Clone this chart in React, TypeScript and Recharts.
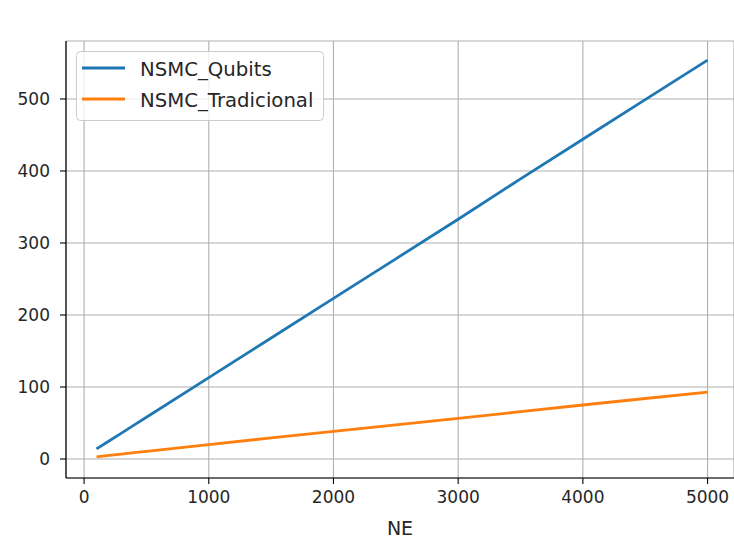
import React from "react";
import { LineChart, Line, XAxis, YAxis, CartesianGrid } from "recharts";

// Number of elements (NE) on the x axis
const ne = [100, 200, 300, 400, 500, 1000, 1500, 2000, 2500, 3000, 3500, 4000, 4500, 5000];
// Series values
const nsmcQubits = [14, 25, 36, 47, 58, 113, 168, 223, 278, 333, 389, 444, 499, 554];
const nsmcTradicional = [3, 4.9, 6.8, 8.7, 10.6, 20, 29.3, 38.5, 47.5, 56.5, 65.7, 75, 84, 93];
// Tick labels
const xTicks = [0, 1000, 2000, 3000, 4000, 5000];
const yTicks = [0, 100, 200, 300, 400, 500];

const seriesNames = ["NSMC_Qubits", "NSMC_Tradicional"];
const colors = ["#1f77b4", "#ff7f0e"];

const data = ne.map((x, i) => ({
  ne: x,
  qubits: nsmcQubits[i],
  tradicional: nsmcTradicional[i],
}));

const FONT = "'DejaVu Sans', sans-serif";
const TEXT = "#262626";
const W = 734;
const H = 541;

function ChartLegend() {
  return (
    <g>
      <rect x={76.5} y={51.5} width={247} height={69} rx={4} ry={4}
        fill="rgba(255,255,255,0.8)" stroke="#cccccc" strokeWidth={1} />
      {seriesNames.map((name, i) => (
        <g key={name}>
          <line x1={82} x2={125} y1={68 + i * 31} y2={68 + i * 31}
            stroke={colors[i]} strokeWidth={2.8} />
          <text x={140} y={69 + i * 31} dy="0.36em" fontFamily={FONT}
            fontSize={19.7} fill={TEXT}>{name}</text>
        </g>
      ))}
    </g>
  );
}

export default function App() {
  return (
    <div style={{ position: "absolute", left: 0, top: 0, width: W, height: H, background: "#fff" }}>
      <LineChart width={W} height={H} data={data}
        margin={{ top: 41, right: 0, bottom: 0, left: 0 }}>
        <CartesianGrid stroke="#b0b0b0" strokeWidth={1.1} />
        <XAxis dataKey="ne" type="number" domain={[-145, 5212]} ticks={xTicks}
          allowDataOverflow height={63} tickSize={6} tickMargin={7}
          stroke="#000" strokeWidth={1.2}
          tick={{ fill: TEXT, fontFamily: FONT, fontSize: 17 }}
          tickLine={{ stroke: "#000", strokeWidth: 1.1 }}
          label={{ value: "NE", position: "insideBottom", offset: 6, fill: TEXT, fontFamily: FONT, fontSize: 19 }} />
        <XAxis xAxisId="top" orientation="top" dataKey="ne" type="number"
          domain={[-145, 5212]} allowDataOverflow height={0} tick={false} tickLine={false}
          stroke="#000" strokeWidth={1.2}
          label={{ value: "e)", position: "top", offset: 12, fill: TEXT, fontFamily: FONT, fontSize: 20 }} />
        <YAxis type="number" domain={[-26.4, 580.5]} ticks={yTicks} allowDataOverflow
          width={66} tickSize={6} tickMargin={10} stroke="#000" strokeWidth={1.2}
          tick={{ fill: TEXT, fontFamily: FONT, fontSize: 17 }}
          tickLine={{ stroke: "#000", strokeWidth: 1.1 }} />
        <Line dataKey="qubits" name={seriesNames[0]} stroke={colors[0]} strokeWidth={2.8}
          dot={false} isAnimationActive={false} />
        <Line dataKey="tradicional" name={seriesNames[1]} stroke={colors[1]} strokeWidth={2.8}
          dot={false} isAnimationActive={false} />
        <ChartLegend />
      </LineChart>
    </div>
  );
}
